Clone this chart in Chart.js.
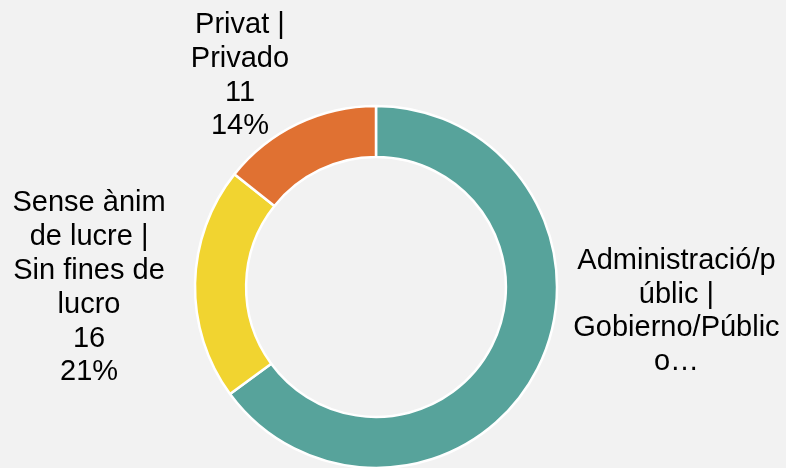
<!DOCTYPE html>
<html><head><meta charset="utf-8">
<script src="https://cdn.jsdelivr.net/npm/chart.js@4"></script>
<style>
html,body{margin:0;padding:0;background:#f2f2f2;overflow:hidden;}
#wrap{width:786px;height:468px;position:relative;}
canvas{display:block;}
</style>
</head><body>
<div id="wrap"><canvas id="c" width="786" height="468"></canvas></div>
<script>
// Category labels as wrapped in the reference (first one is truncated there)
const categories = [
  ["Administració/p", "úblic |", "Gobierno/Públic", "o…"],
  ["Sense ànim", "de lucre |", "Sin fines de", "lucro"],
  ["Privat |", "Privado"]
];
const values = [50, 16, 11];
const labelTruncated = [true, false, false];
const colors = ["#57A39B", "#F1D430", "#E07132"];

const total = values.reduce((a, b) => a + b, 0);

// label placement relative to each arc's outer mid-point (first baseline)
const labelOffsets = [
  { dx: 139, dy: -100 },
  { dx: -106, dy: -72 },
  { dx: -57.5, dy: -91 }
];
const LINE_H = 33.8;

const labelPlugin = {
  id: 'outsideLabels',
  afterDatasetsDraw(chart) {
    const ctx = chart.ctx;
    const meta = chart.getDatasetMeta(0);
    ctx.save();
    ctx.font = '29px "Liberation Sans", Arial, sans-serif';
    ctx.fillStyle = '#000000';
    ctx.textAlign = 'center';
    ctx.textBaseline = 'alphabetic';
    meta.data.forEach((arc, i) => {
      const p = arc.getProps(['x', 'y', 'startAngle', 'endAngle', 'outerRadius'], true);
      const mid = (p.startAngle + p.endAngle) / 2;
      const ax = p.x + Math.cos(mid) * p.outerRadius;
      const ay = p.y + Math.sin(mid) * p.outerRadius;
      const lines = categories[i].slice();
      if (!labelTruncated[i]) {
        lines.push(String(values[i]));
        lines.push(Math.round(values[i] / total * 100) + '%');
      }
      const x = ax + labelOffsets[i].dx;
      let y = ay + labelOffsets[i].dy;
      lines.forEach((ln, k) => {
        ctx.fillText(ln, x, y + k * LINE_H);
      });
    });
    ctx.restore();
  }
};

new Chart(document.getElementById('c'), {
  type: 'doughnut',
  data: {
    labels: categories.map(l => l.join(' ')),
    datasets: [{
      data: values,
      backgroundColor: colors,
      borderColor: '#ffffff',
      borderWidth: 2.5,
      hoverOffset: 0
    }]
  },
  options: {
    responsive: false,
    devicePixelRatio: 1,
    animation: false,
    radius: 181,
    cutout: 129,
    layout: { padding: { left: 0, right: 34, top: 106, bottom: 0 } },
    plugins: {
      legend: { display: false },
      tooltip: { enabled: false }
    }
  },
  plugins: [labelPlugin]
});
</script>
</body></html>
